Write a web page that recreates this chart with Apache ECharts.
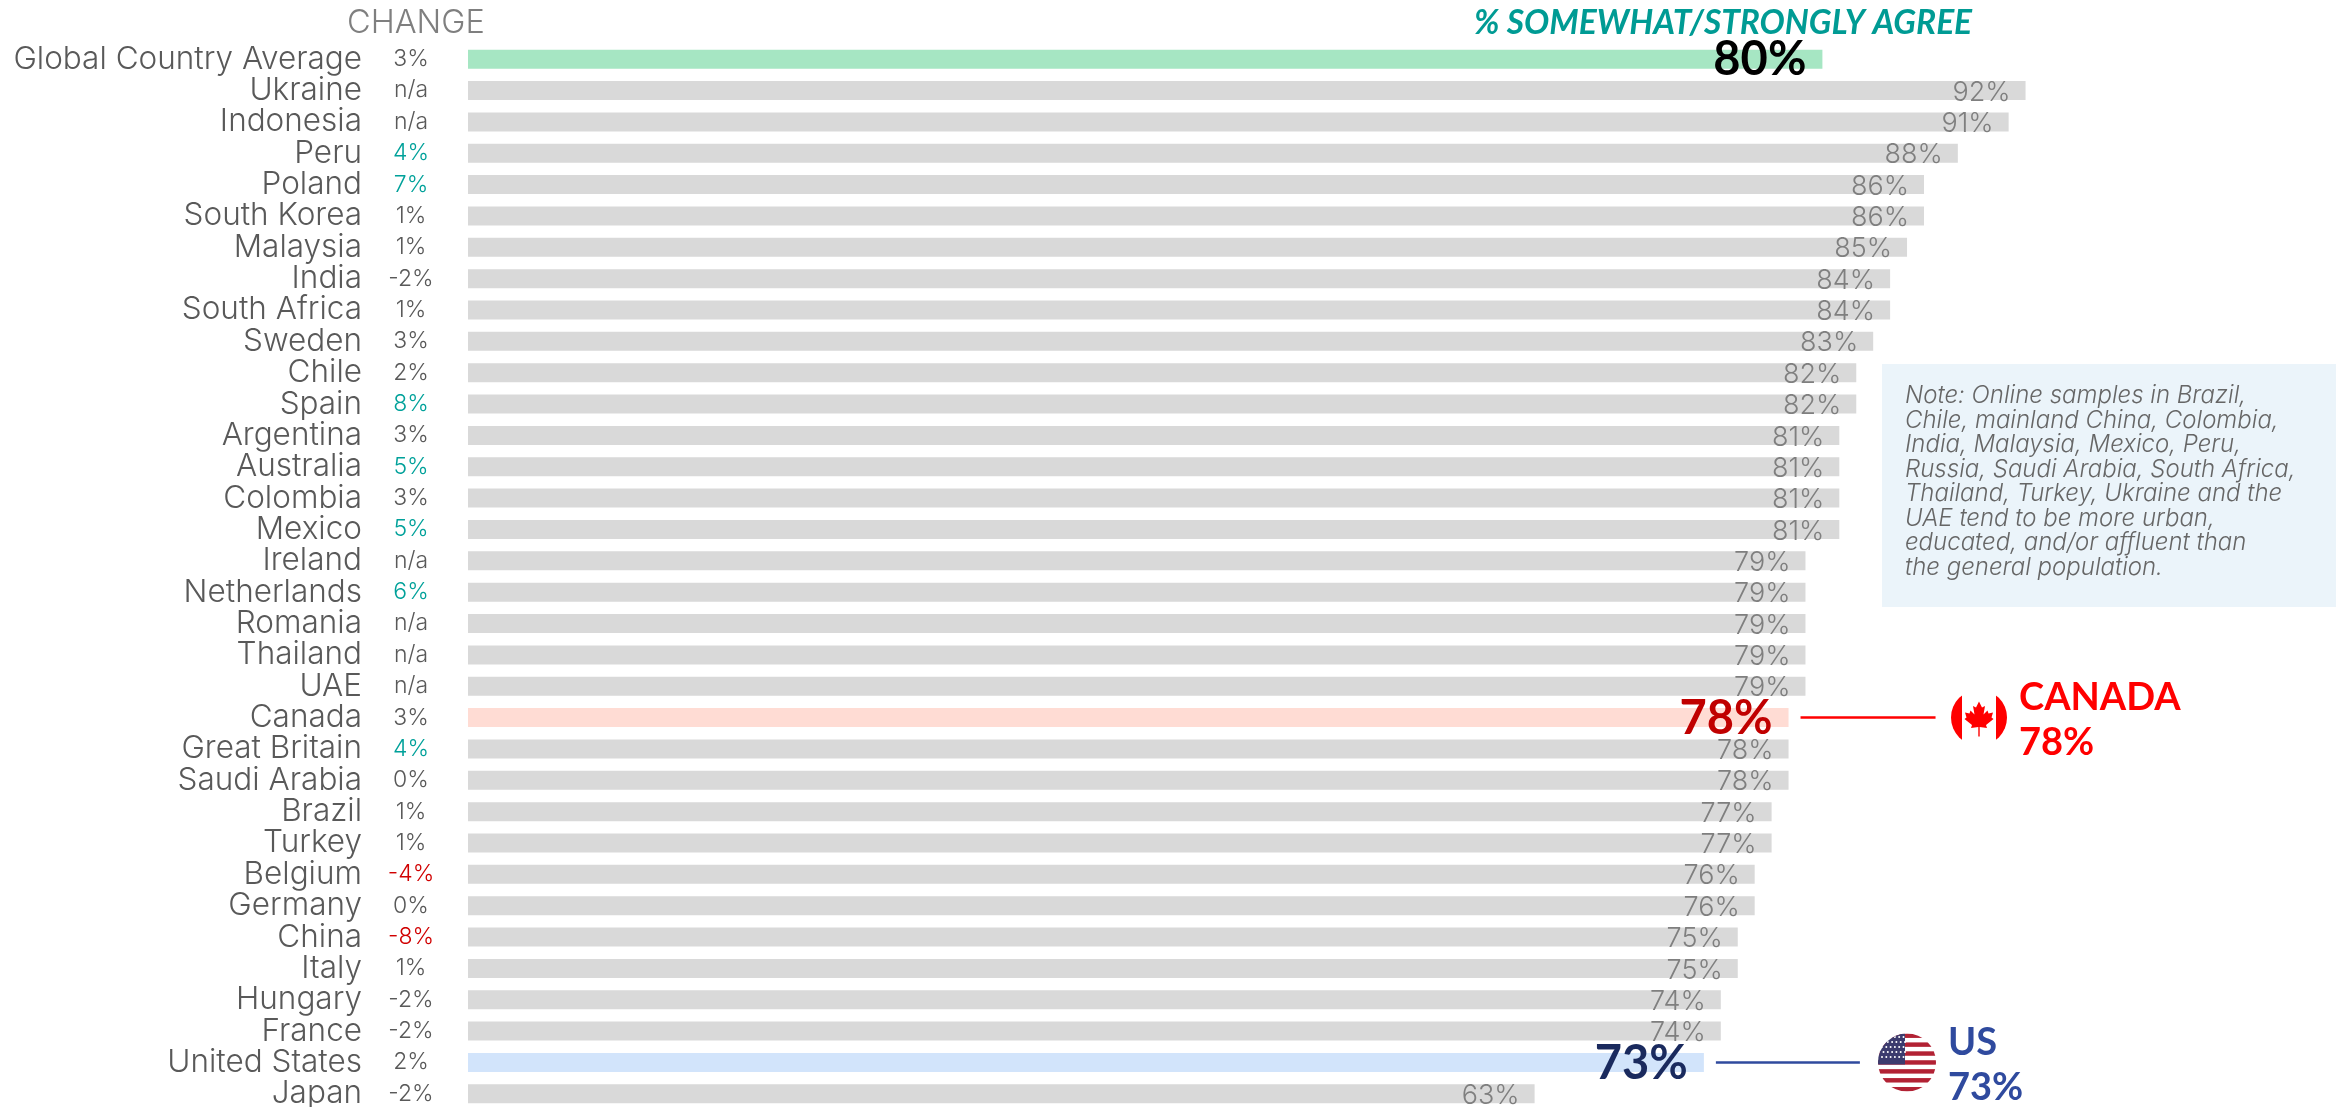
<!DOCTYPE html>
<html lang="en">
<head>
<meta charset="UTF-8">
<title>% somewhat/strongly agree</title>
<script src="https://cdn.jsdelivr.net/npm/echarts@6/dist/echarts.min.js"></script>
<style>
  html, body { margin: 0; padding: 0; background: #fff; }
  #main { width: 2336px; height: 1107px; }
</style>
</head>
<body>
<div id="main"></div>
<script type="text/javascript">
var categories = ['Global Country Average', 'Ukraine', 'Indonesia', 'Peru', 'Poland', 'South Korea', 'Malaysia', 'India', 'South Africa', 'Sweden', 'Chile', 'Spain', 'Argentina', 'Australia', 'Colombia', 'Mexico', 'Ireland', 'Netherlands', 'Romania', 'Thailand', 'UAE', 'Canada', 'Great Britain', 'Saudi Arabia', 'Brazil', 'Turkey', 'Belgium', 'Germany', 'China', 'Italy', 'Hungary', 'France', 'United States', 'Japan'];
var agree = [80, 92, 91, 88, 86, 86, 85, 84, 84, 83, 82, 82, 81, 81, 81, 81, 79, 79, 79, 79, 79, 78, 78, 78, 77, 77, 76, 76, 75, 75, 74, 74, 73, 63];
var change = ['3%', 'n/a', 'n/a', '4%', '7%', '1%', '1%', '-2%', '1%', '3%', '2%', '8%', '3%', '5%', '3%', '5%', 'n/a', '6%', 'n/a', 'n/a', 'n/a', '3%', '4%', '0%', '1%', '1%', '-4%', '0%', '-8%', '1%', '-2%', '-2%', '2%', '-2%'];
var noteLines = ['Note: Online samples in Brazil,', 'Chile, mainland China, Colombia,', 'India, Malaysia, Mexico, Peru,', 'Russia, Saudi Arabia, South Africa,', 'Thailand, Turkey, Ukraine and the', 'UAE tend to be more urban,', 'educated, and/or affluent than', 'the general population.'];

var FONT = 'Inter';
var BOLD_FONT = 'Lato';
var TEAL = '#00a19a';

// rows that get their own colour and a big label
var special = {
  'Global Country Average': { bar: '#a6e6c3', label: '#000000' },
  'Canada': { bar: '#ffdcd4', label: '#c00000' },
  'United States': { bar: '#d2e4fb', label: '#1a2a5e' }
};

function changeColor(value) {
  var n = parseInt(value, 10);
  if (n >= 4) return TEAL;
  if (n <= -4) return '#d00000';
  return '#595959';
}

var barData = agree.map(function (v, i) {
  var s = special[categories[i]];
  if (!s) return v;
  return {
    value: v,
    itemStyle: { color: s.bar },
    label: { color: s.label, fontFamily: BOLD_FONT, fontSize: 47, fontWeight: 'bold', distance: 16, offset: [0, 1] }
  };
});

var flagCanada = 'data:image/svg+xml;utf8,' + encodeURIComponent(
  '<svg xmlns="http://www.w3.org/2000/svg" width="58" height="58" viewBox="0 0 58 58">' +
  '<defs><clipPath id="c"><circle cx="29" cy="29" r="28"/></clipPath></defs>' +
  '<g clip-path="url(#c)"><rect width="58" height="58" fill="#fff"/>' +
  '<rect width="12" height="58" fill="#f00"/><rect x="46" width="12" height="58" fill="#f00"/>' +
  '<path fill="#f00" d="M29 13L32 19L35 17.5L33.5 26L37.5 22L38.5 25L43 24L41.5 29L43.5 30.5L36 36.5L37 39.5L29.7 38.5L29.7 48L28.3 48L28.3 38.5L21 39.5L22 36.5L14.5 30.5L16.5 29L15 24L19.5 25L20.5 22L24.5 26L23 17.5L26 19Z"/>' +
  '</g></svg>');

var usStripes = '';
for (var k = 0; k < 7; k++) usStripes += '<rect y="' + (k * 8.92) + '" width="58" height="4.46" fill="#b22234"/>';
var usStars = '';
for (var r = 0; r < 5; r++) for (var c = 0; c < 6; c++) usStars += '<circle cx="' + (4 + c * 4.3 + (r % 2) * 1.5) + '" cy="' + (3.5 + r * 5) + '" r="1" fill="#fff"/>';
var flagUS = 'data:image/svg+xml;utf8,' + encodeURIComponent(
  '<svg xmlns="http://www.w3.org/2000/svg" width="58" height="58" viewBox="0 0 58 58">' +
  '<defs><clipPath id="u"><circle cx="29" cy="29" r="29"/></clipPath></defs>' +
  '<g clip-path="url(#u)"><rect width="58" height="58" fill="#fff"/>' + usStripes +
  '<rect width="27" height="31" fill="#3c3b6e"/>' + usStars + '</g></svg>');

var myChart = echarts.init(document.getElementById('main'));

myChart.setOption({
  animation: false,
  backgroundColor: '#ffffff',
  // last row runs past the page edge, stop echarts squeezing the grid back in
  grid: { left: 468, top: 43.5, width: 1693, height: 1066, outerBoundsMode: 'none' },
  xAxis: { type: 'value', min: 0, max: 100, show: false },
  yAxis: [{
    type: 'category',
    inverse: true,
    data: categories,
    axisLine: { show: false },
    axisTick: { show: false },
    axisLabel: { interval: 0, margin: 106, color: '#595959', fontFamily: FONT, fontWeight: 300, fontSize: 31.5, padding: [3, 0, 0, 0] }
  }, {
    type: 'category',
    position: 'left',
    inverse: true,
    data: change,
    axisLine: { show: false },
    axisTick: { show: false },
    axisLabel: {
      interval: 0, margin: 57, align: 'center', fontFamily: FONT, fontWeight: 300, fontSize: 23,
      color: function (value) { return changeColor(value); }
    }
  }],
  series: [{
    type: 'bar',
    yAxisIndex: 0,
    barWidth: 19,
    itemStyle: { color: '#d9d9d9' },
    data: barData,
    label: {
      show: true,
      position: 'insideRight',
      distance: 15,
      offset: [0, 2],
      color: '#7f7f7f',
      fontFamily: FONT,
      fontWeight: 300,
      fontSize: 27,
      formatter: '{c}%'
    }
  }]
});

// callouts hang off the bars, so take their start from the chart's scale
function callout(name, lineColor, lineLen, flag, flagX, textX, title, textColor) {
  var i = categories.indexOf(name);
  var p = myChart.convertToPixel({ xAxisIndex: 0, yAxisIndex: 0 }, [agree[i], i]);
  return [
    { type: 'line', shape: { x1: p[0] + 12, y1: p[1], x2: p[0] + 12 + lineLen, y2: p[1] }, style: { stroke: lineColor, lineWidth: 2.5 } },
    { type: 'image', style: { image: flag, x: flagX - 29, y: p[1] - 29, width: 58, height: 58 } },
    { type: 'text', style: { x: textX, y: p[1] - 20, text: title, fill: textColor, font: 'bold 38px ' + BOLD_FONT, textVerticalAlign: 'middle' } },
    { type: 'text', style: { x: textX, y: p[1] + 25, text: agree[i] + '%', fill: textColor, font: 'bold 38px ' + BOLD_FONT, textVerticalAlign: 'middle' } }
  ];
}

var extras = [
  { type: 'text', style: { x: 347, y: 23, text: 'CHANGE', fill: '#7f7f7f', font: '300 32.5px ' + FONT, textVerticalAlign: 'middle' } },
  { type: 'text', style: { x: 1474, y: 23, text: '% SOMEWHAT/STRONGLY AGREE', fill: '#009b94', font: 'italic bold 33.5px ' + BOLD_FONT, textVerticalAlign: 'middle' } },
  { type: 'rect', shape: { x: 1882, y: 364, width: 454, height: 243 }, style: { fill: '#ebf4fa' } }
];
noteLines.forEach(function (line, i) {
  extras.push({ type: 'text', style: { x: 1905, y: 396 + i * 24.5, text: line, fill: '#666666', font: 'italic 300 24px ' + FONT, textVerticalAlign: 'middle' } });
});
extras = extras
  .concat(callout('Canada', '#ff0000', 135, flagCanada, 1979, 2019, 'CANADA', '#ff0000'))
  .concat(callout('United States', '#2f4a9e', 144, flagUS, 1907, 1948, 'US', '#2f4a9e'));

myChart.setOption({ graphic: { elements: extras } });
</script>
</body>
</html>
